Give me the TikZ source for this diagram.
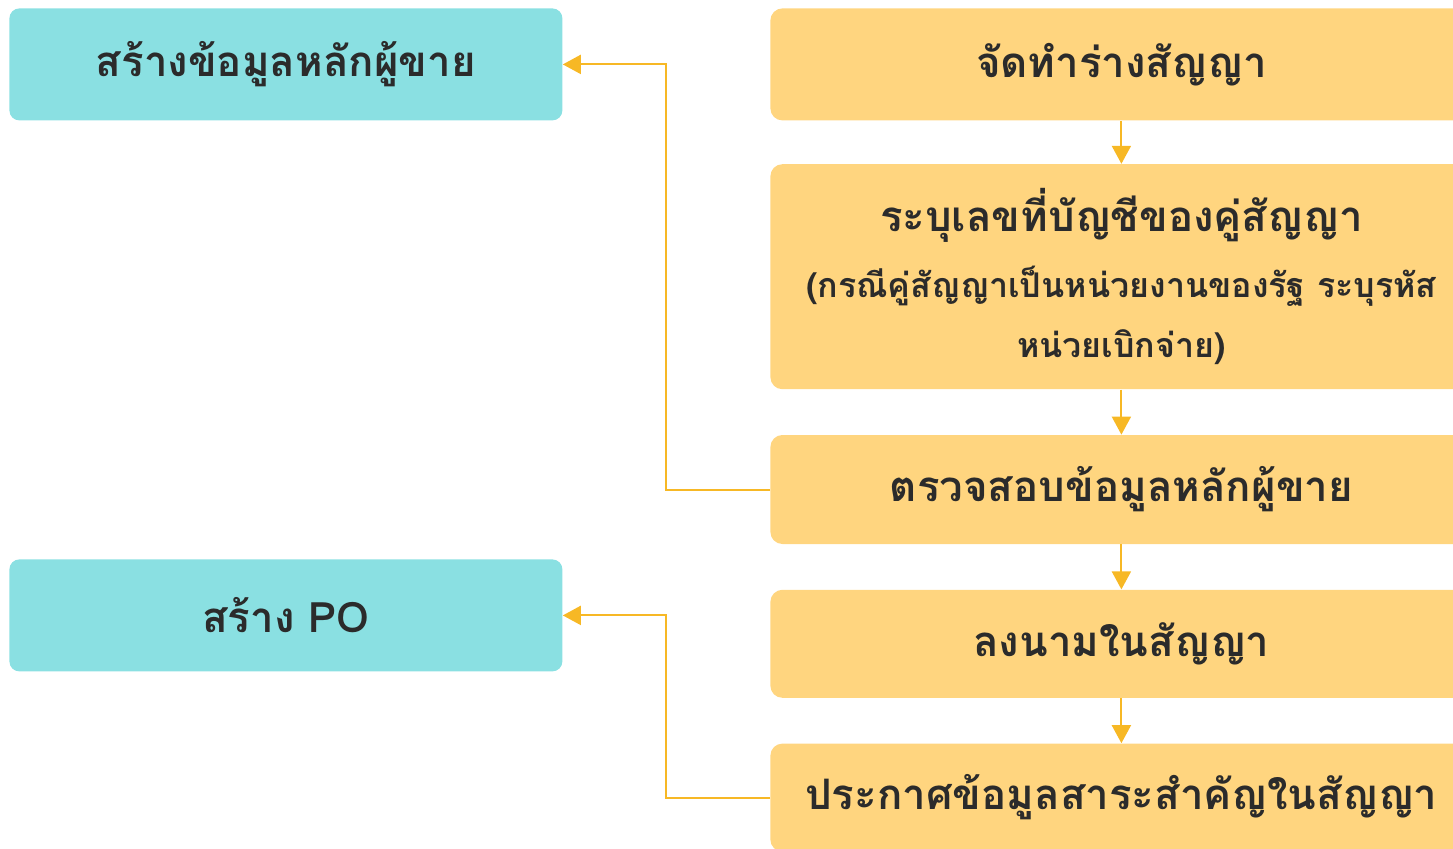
\documentclass[tikz,border=0pt]{standalone}
\usepackage{fontspec}
\newfontfamily\thaifont[Script=Thai]{Loma}
\usetikzlibrary{arrows.meta,positioning}
\definecolor{boxteal}{HTML}{8AE0E2}
\definecolor{boxorange}{HTML}{FFD57F}
\definecolor{linkorange}{HTML}{F7B825}
\definecolor{textdark}{HTML}{2B2B2B}
\tikzset{
    %Define standard arrow tip
    >={Triangle[width=9.5pt,length=9pt]},
    font=\thaifont\bfseries\fontsize{21}{26}\selectfont,
    %Define style for the boxes on the left
    mainbox/.style={
           rectangle,
           rounded corners=5pt,
           fill=boxteal,
           text=textdark,
           minimum width=276.5pt,
           minimum height=56pt,
           align=center},
    %Define style for the boxes on the right
    stepbox/.style={
           rectangle,
           rounded corners=6pt,
           fill=boxorange,
           text=textdark,
           minimum width=351pt,
           align=center},
    % Define arrow style
    pil/.style={
	   ->,
	   color=linkorange,
           line width=1pt}
}

\begin{document}
\begin{tikzpicture}[node distance=22.5pt]
  \useasboundingbox (0,0) rectangle (726.5pt,-424pt);
  \clip (0,0) rectangle (726.5pt,-424pt);
  \node[stepbox, minimum height=56pt, anchor=north west] (draft) at (385pt,-4pt) {จัดทำร่างสัญญา};
  \node[stepbox, minimum height=112.5pt, below=21.5pt of draft] (account) {ระบุเลขที่บัญชีของคู่สัญญา\\[7pt]
    {\fontsize{17}{30}\selectfont (กรณีคู่สัญญาเป็นหน่วยงานของรัฐ ระบุรหัส}\\[4pt]
    {\fontsize{17}{30}\selectfont หน่วยเบิกจ่าย)}};
  \node[stepbox, minimum height=54.5pt, below=of account] (check) {ตรวจสอบข้อมูลหลักผู้ขาย};
  \node[stepbox, minimum height=54pt, below=of check] (sign) {ลงนามในสัญญา};
  \node[stepbox, minimum height=54pt, below=of sign] (announce) {ประกาศข้อมูลสาระสำคัญในสัญญา};
  \node[mainbox, anchor=north west] (vendor) at (4.5pt,-4pt) {สร้างข้อมูลหลักผู้ขาย};
  \node[mainbox, anchor=north west] (po) at (4.5pt,-279.5pt) {สร้าง PO};
  \path[pil]
    (draft) edge (account)
    (account) edge (check)
    (check) edge (sign)
    (sign) edge (announce);
  \draw[pil] (check.west) -- ++(-52pt,0) |- (vendor.east);
  \draw[pil] (announce.west) -- ++(-52pt,0) |- (po.east);
\end{tikzpicture}
\end{document}
